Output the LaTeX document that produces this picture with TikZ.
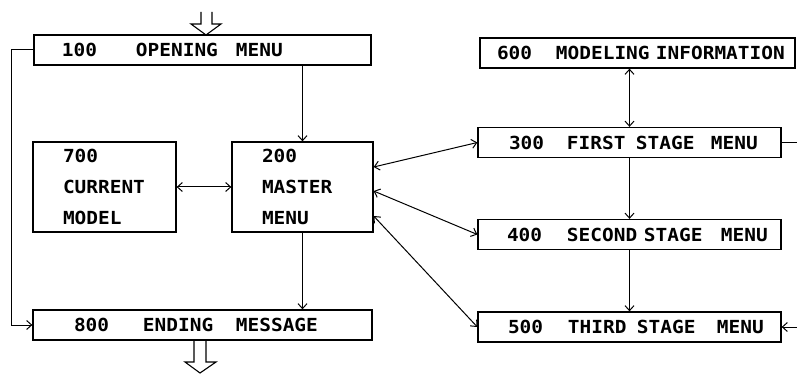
\documentclass[tikz,border=0pt]{standalone}
\usepackage{fontspec}
\setmainfont[FakeStretch=1.08]{DejaVu Sans Mono}
\usepackage{tikz}
\usetikzlibrary{positioning}
\usetikzlibrary{arrows.meta}

\newcommand{\plotword}[2]{\makebox[#1][l]{#2}}

\begin{document}
\begin{tikzpicture}[x=1pt,y=-1pt,>={Straight Barb[length=5pt,width=9pt]},
		line width=1pt,
		menubox/.style={draw,line width=1.3pt,inner xsep=0pt,minimum height=30pt,
			align=left,text width=#1,font=\fontsize{18}{31}\selectfont\bfseries},
		hollow/.style={line width=1.1pt,line join=miter}]
		\useasboundingbox (0,0) rectangle (797,374);
		
		\node[menubox=337pt] (open) at (202.5,50)
			{\hspace*{28pt}\plotword{74pt}{100}\plotword{100pt}{OPENING}MENU};
		\node[menubox=339pt] (ending) [below of=open, node distance=275pt]
			{\hspace*{41pt}\plotword{69pt}{800}\plotword{93pt}{ENDING}MESSAGE};
		\node[menubox=143pt, minimum height=90pt] (current) at (104.5,187)
			{\hspace*{30pt}700\\\hspace*{30pt}CURRENT\\\hspace*{30pt}MODEL};
		\node[menubox=141pt, minimum height=90pt] (master) [right of=current, node distance=198pt]
			{\hspace*{30pt}200\\\hspace*{30pt}MASTER\\\hspace*{30pt}MENU};
		\node[menubox=315pt] (info) at (637.5,53)
			{\hspace*{17pt}\plotword{59pt}{600}\plotword{100pt}{MODELING}INFORMATION};
		\node[menubox=303pt] (first) at (629.5,142.5)
			{\hspace*{31pt}\plotword{58pt}{300}\plotword{69pt}{FIRST}\plotword{75pt}{STAGE}MENU};
		\node[menubox=303pt] (second) [below of=first, node distance=92pt]
			{\hspace*{29pt}\plotword{60pt}{400}\plotword{77pt}{SECOND}\plotword{77pt}{STAGE}MENU};
		\node[menubox=303pt] (third) [below of=second, node distance=92.5pt]
			{\hspace*{30pt}\plotword{60pt}{500}\plotword{69pt}{THIRD}\plotword{80pt}{STAGE}MENU};
		
		\coordinate (entry) at (206,35);
		\coordinate (exit) at (200,373);
		\coordinate (loopout) at (797,142.5);
		\coordinate (loopin) at (797,327);
		
		% in and out
		\draw[hollow] (entry) ++(-5,-23) -- ++(0,12) -- ++(-10,0) -- (entry)
			-- ++(15,-11) -- ++(-9,0) -- ++(0,-12);
		\draw[hollow] (exit) ++(-6,-33) -- ++(0,22) -- ++(-9,0) -- (exit)
			-- ++(16,-11) -- ++(-10,0) -- ++(0,-22);
		
		\draw[->] (open.south -| master.north) -- (master.north);
		\draw[->] (master.south) -- (master.south |- ending.north);
		\draw[->] (open.west) -- ++(-22,0) |- (ending.west);
		\draw[<->] (current.east) -- (master.west);
		\draw[<->] ([yshift=20pt]master.east) -- (first.west);
		\draw[<->] ([yshift=-4pt]master.east) -- (second.west);
		\draw[<->] ([yshift=-29pt]master.east) -- (third.west);
		\draw[<->] (first.north |- info.south) -- (first.north);
		\draw[->] (first.south) -- (second.north);
		\draw[->] (second.south) -- (third.north);
		\draw (first.east) -- (loopout);
		\draw[->] (loopin) -- (third.east);
		\end{tikzpicture}
\end{document}
